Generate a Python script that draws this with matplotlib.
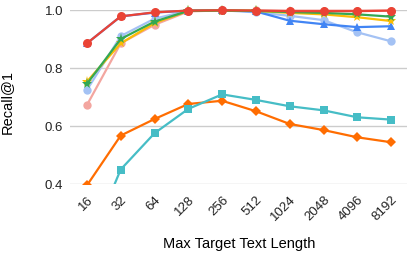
import matplotlib.pyplot as plt

lengths = ["16", "32", "64", "128", "256", "512", "1024", "2048", "4096", "8192"]

# one list per series
orange_diamond = [0.395, 0.567, 0.624, 0.676, 0.687, 0.651, 0.607, 0.586, 0.561, 0.544]
cyan_square = [0.17, 0.45, 0.575, 0.659, 0.709, 0.690, 0.668, 0.654, 0.630, 0.622]
pink_circle = [0.672, 0.885, 0.949, 0.995, 0.999, 0.999, 0.998, 0.998, 0.998, 0.998]
lightblue_circle = [0.724, 0.910, 0.970, 0.998, 0.999, 0.992, 0.980, 0.965, 0.923, 0.892]
blue_triangle = [0.885, 0.978, 0.991, 0.998, 0.999, 0.995, 0.963, 0.951, 0.941, 0.944]
yellow_star = [0.753, 0.885, 0.955, 0.997, 0.998, 0.997, 0.990, 0.985, 0.975, 0.962]
green_star = [0.745, 0.900, 0.960, 0.997, 0.998, 0.997, 0.993, 0.990, 0.985, 0.977]
red_circle = [0.885, 0.978, 0.992, 0.998, 0.999, 0.998, 0.996, 0.996, 0.996, 0.998]

plt.rcParams['font.family'] = ['Liberation Sans', 'DejaVu Sans']

fig = plt.figure(figsize=(4.07, 2.54), dpi=100)
ax = fig.add_axes([70 / 407, 1 - 184 / 254, 338 / 407, 174 / 254])

x = range(len(lengths))
# (values, colour, marker, size, clip)
series = [
    (orange_diamond, "#FF6D01", "D", 5, True),
    (cyan_square, "#46BDC6", "s", 5.5, True),
    (pink_circle, "#F3A6A0", "o", 6, False),
    (lightblue_circle, "#A4C2F4", "o", 6, False),
    (blue_triangle, "#4285F4", "^", 6, False),
    (yellow_star, "#FBBC04", "*", 8, False),
    (green_star, "#34A853", "*", 8, False),
    (red_circle, "#EA4335", "o", 6.5, False),
]
for vals, col, mk, ms, clip in series:
    ax.plot(x, vals, color=col, marker=mk, markersize=ms, linewidth=1.6,
            markeredgewidth=0, solid_capstyle='round', clip_on=clip)

ax.set_xlim(-0.5, len(lengths) - 0.5)
ax.set_ylim(0.4, 1.0)
ax.set_yticks([0.4, 0.6, 0.8, 1.0])
ax.set_yticklabels(["0.4", "0.6", "0.8", "1.0"])
ax.set_xticks(list(x))
ax.set_xticklabels(lengths, rotation=45, ha='right', rotation_mode='anchor')
ax.grid(axis='y', color='#cccccc', linewidth=1)
ax.set_axisbelow(True)
for s in ax.spines.values():
    s.set_visible(False)
ax.tick_params(length=0, labelsize=9.5, colors='#222222', pad=5)
ax.tick_params(axis='x', pad=7)

ax.set_xlabel("Max Target Text Length", fontsize=10.5, labelpad=10)
ax.set_ylabel("Recall@1", fontsize=10.5, labelpad=14)
ax.yaxis.set_label_coords(-56 / 338, 0.47)

fig.savefig("out.png", dpi=100)
